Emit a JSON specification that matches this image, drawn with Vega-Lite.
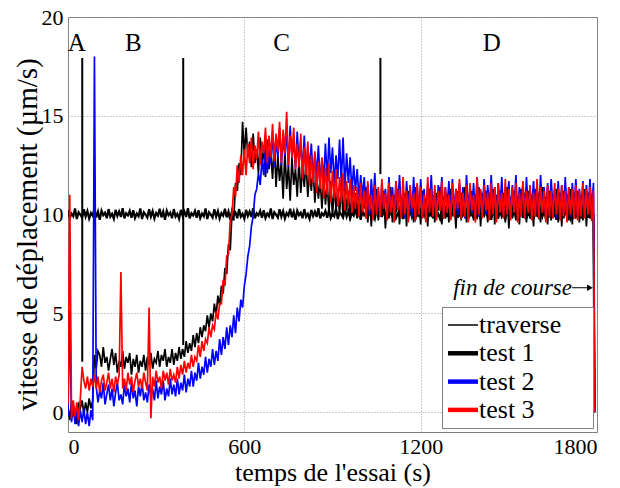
{
"$schema":"https://vega.github.io/schema/vega-lite/v6.json",
"width":529,"height":415,
"autosize":{"type":"none"},
"padding":{"left":68,"top":17,"right":23,"bottom":56},
"config":{
"font":"Liberation Serif",
"view":{"stroke":"#7a7a7a","strokeWidth":1},
"axis":{"labelFont":"Liberation Serif","labelFontSize":22,"labelColor":"#000","titleFont":"Liberation Serif","titleFontWeight":"normal","titleColor":"#000","domain":false,"ticks":false,"grid":true,"gridColor":"#9a9a9a","gridDash":[1,2],"gridWidth":1,"format":"d"},
"axisX":{"labelPadding":4,"titleFontSize":26,"titleY":40,"titleBaseline":"middle"},
"axisY":{"labelPadding":5,"titleFontSize":29,"titleX":-41,"titleY":217,"titleBaseline":"middle"}
},
"datasets":{
"series":[
{"t":0,"a":10.22,"k":0.3,"b":-0.2,"r":0.4},
{"t":6,"a":9.83,"k":-0.4,"b":5.2,"r":11.0},
{"t":12,"a":10.05,"k":0.5,"b":-0.5,"r":-0.3},
{"t":18,"a":9.92,"k":-0.2,"b":0.3,"r":0.6},
{"t":24,"a":10.31,"k":0.1,"b":-0.6,"r":-0.2},
{"t":30,"a":9.78,"k":-0.6,"b":0.2,"r":0.5},
{"t":36,"a":10.12,"k":0.4,"b":-0.7,"r":-0.4},
{"t":42,"a":10.0,"k":0.2,"b":0.1,"r":0.7},
{"t":48,"a":9.85,"k":0.6,"b":-0.5,"r":2.3},
{"t":54,"a":10.27,"k":-0.1,"b":0.2,"r":1.6},
{"t":60,"a":9.9,"k":0.5,"b":-0.6,"r":1.2},
{"t":66,"a":10.18,"k":0.0,"b":0.0,"r":1.8},
{"t":72,"a":9.8,"k":0.7,"b":-0.7,"r":1.1},
{"t":78,"a":10.08,"k":0.2,"b":0.1,"r":1.7},
{"t":84,"a":9.95,"k":0.6,"b":-0.4,"r":1.3},
{"t":90,"a":10.3,"k":2.9,"b":18.0,"r":1.9},
{"t":96,"a":9.86,"k":2.2,"b":1.3,"r":1.2},
{"t":102,"a":10.15,"k":3.1,"b":0.5,"r":1.8},
{"t":108,"a":9.74,"k":2.9,"b":1.1,"r":1.0},
{"t":114,"a":10.2,"k":2.3,"b":0.7,"r":1.6},
{"t":120,"a":9.97,"k":3.3,"b":1.5,"r":1.9},
{"t":126,"a":10.1,"k":2.5,"b":0.4,"r":1.1},
{"t":132,"a":9.82,"k":2.8,"b":0.9,"r":1.5},
{"t":138,"a":10.28,"k":2.1,"b":1.4,"r":2.0},
{"t":144,"a":9.9,"k":2.7,"b":0.6,"r":1.2},
{"t":150,"a":10.04,"k":3.2,"b":1.2,"r":1.7},
{"t":156,"a":9.79,"k":2.4,"b":0.3,"r":1.0},
{"t":162,"a":10.24,"k":3.0,"b":1.0,"r":1.8},
{"t":168,"a":9.93,"k":2.0,"b":1.5,"r":1.4},
{"t":174,"a":10.16,"k":2.6,"b":0.6,"r":1.9},
{"t":180,"a":9.88,"k":2.3,"b":0.9,"r":7.1},
{"t":186,"a":10.33,"k":3.1,"b":0.4,"r":1.2},
{"t":192,"a":9.81,"k":2.2,"b":1.4,"r":1.7},
{"t":198,"a":10.07,"k":2.8,"b":0.8,"r":1.1},
{"t":204,"a":9.96,"k":2.5,"b":1.2,"r":2.0},
{"t":210,"a":10.19,"k":3.0,"b":0.5,"r":1.4},
{"t":216,"a":9.84,"k":1.9,"b":1.5,"r":1.8},
{"t":222,"a":10.22,"k":2.7,"b":0.7,"r":1.0},
{"t":228,"a":9.83,"k":2.3,"b":1.1,"r":1.6},
{"t":234,"a":10.05,"k":2.9,"b":0.3,"r":2.0},
{"t":240,"a":9.92,"k":2.0,"b":1.3,"r":1.3},
{"t":246,"a":10.31,"k":2.6,"b":0.8,"r":1.7},
{"t":252,"a":9.78,"k":2.3,"b":1.5,"r":1.2},
{"t":258,"a":10.12,"k":2.9,"b":0.6,"r":2.0},
{"t":264,"a":10.0,"k":2.1,"b":1.0,"r":1.5},
{"t":270,"a":9.85,"k":2.8,"b":0.5,"r":1.1},
{"t":276,"a":10.27,"k":2.4,"b":1.4,"r":5.3},
{"t":282,"a":9.9,"k":3.0,"b":0.8,"r":-0.3},
{"t":288,"a":10.18,"k":2.2,"b":1.2,"r":1.8},
{"t":294,"a":9.8,"k":2.7,"b":0.6,"r":1.3},
{"t":300,"a":10.08,"k":2.5,"b":1.6,"r":2.1},
{"t":306,"a":9.95,"k":3.1,"b":0.7,"r":1.5},
{"t":312,"a":10.3,"k":2.3,"b":1.3,"r":1.8},
{"t":318,"a":9.86,"k":2.9,"b":0.9,"r":1.2},
{"t":324,"a":10.15,"k":2.6,"b":1.6,"r":2.1},
{"t":330,"a":9.74,"k":3.2,"b":0.6,"r":1.6},
{"t":336,"a":10.2,"k":2.3,"b":1.2,"r":2.0},
{"t":342,"a":9.97,"k":2.8,"b":0.8,"r":1.4},
{"t":348,"a":10.1,"k":2.5,"b":1.7,"r":2.2},
{"t":354,"a":9.82,"k":3.2,"b":0.9,"r":1.6},
{"t":360,"a":10.28,"k":2.4,"b":1.4,"r":1.9},
{"t":366,"a":9.9,"k":3.0,"b":0.8,"r":1.5},
{"t":372,"a":10.04,"k":2.6,"b":1.7,"r":2.3},
{"t":378,"a":9.79,"k":3.3,"b":0.9,"r":1.7},
{"t":384,"a":10.24,"k":2.7,"b":1.5,"r":2.4},
{"t":390,"a":9.93,"k":3.2,"b":1.1,"r":1.9},
{"t":396,"a":10.16,"k":2.8,"b":1.9,"r":2.6},
{"t":402,"a":9.88,"k":3.6,"b":1.0,"r":2.0},
{"t":408,"a":10.33,"k":3.0,"b":1.7,"r":2.5},
{"t":414,"a":9.81,"k":3.5,"b":1.3,"r":2.2},
{"t":420,"a":10.07,"k":3.1,"b":2.1,"r":2.9},
{"t":426,"a":9.96,"k":3.9,"b":1.3,"r":2.3},
{"t":432,"a":10.19,"k":3.3,"b":2.0,"r":2.8},
{"t":438,"a":9.84,"k":4.0,"b":1.6,"r":2.6},
{"t":444,"a":10.22,"k":3.5,"b":2.5,"r":3.4},
{"t":450,"a":9.83,"k":4.3,"b":1.7,"r":2.8},
{"t":456,"a":10.05,"k":3.8,"b":2.3,"r":3.6},
{"t":462,"a":9.92,"k":4.4,"b":1.9,"r":3.1},
{"t":468,"a":10.31,"k":4.1,"b":2.8,"r":3.7},
{"t":474,"a":9.78,"k":4.9,"b":2.0,"r":3.5},
{"t":480,"a":10.12,"k":4.3,"b":2.7,"r":4.3},
{"t":486,"a":10.0,"k":5.0,"b":2.3,"r":3.8},
{"t":492,"a":9.85,"k":4.6,"b":3.2,"r":4.4},
{"t":498,"a":10.27,"k":5.5,"b":2.4,"r":4.2},
{"t":504,"a":9.9,"k":4.9,"b":3.1,"r":5.1},
{"t":510,"a":10.18,"k":5.9,"b":2.6,"r":4.7},
{"t":516,"a":9.8,"k":5.4,"b":3.7,"r":5.5},
{"t":522,"a":10.08,"k":6.4,"b":2.9,"r":5.5},
{"t":528,"a":9.95,"k":6.0,"b":3.8,"r":6.7},
{"t":534,"a":10.3,"k":7.3,"b":3.2,"r":6.4},
{"t":540,"a":9.86,"k":7.0,"b":4.3,"r":7.9},
{"t":546,"a":10.15,"k":8.5,"b":3.4,"r":8.0},
{"t":552,"a":9.74,"k":8.2,"b":4.4,"r":9.7},
{"t":558,"a":10.2,"k":10.1,"b":3.8,"r":10.0},
{"t":564,"a":9.97,"k":9.7,"b":4.9,"r":11.4},
{"t":570,"a":10.1,"k":11.6,"b":4.0,"r":10.9},
{"t":576,"a":9.82,"k":11.2,"b":5.3,"r":12.5},
{"t":582,"a":10.28,"k":12.6,"b":4.6,"r":11.6},
{"t":588,"a":9.9,"k":12.0,"b":5.7,"r":13.0},
{"t":594,"a":10.04,"k":14.7,"b":5.3,"r":12.0},
{"t":600,"a":9.79,"k":13.0,"b":6.4,"r":13.3},
{"t":606,"a":10.24,"k":14.4,"b":7.0,"r":12.0},
{"t":612,"a":9.93,"k":12.9,"b":7.9,"r":13.6},
{"t":618,"a":10.16,"k":13.7,"b":8.4,"r":12.6},
{"t":624,"a":9.88,"k":12.4,"b":9.4,"r":13.9},
{"t":630,"a":10.33,"k":14.1,"b":9.9,"r":12.3},
{"t":636,"a":9.81,"k":12.6,"b":11.0,"r":13.5},
{"t":642,"a":10.07,"k":13.3,"b":11.3,"r":12.8},
{"t":648,"a":9.96,"k":12.1,"b":12.1,"r":14.2},
{"t":654,"a":10.19,"k":13.9,"b":11.5,"r":12.5},
{"t":660,"a":9.84,"k":12.5,"b":12.8,"r":13.7},
{"t":666,"a":10.22,"k":13.5,"b":12.0,"r":13.1},
{"t":672,"a":9.83,"k":11.9,"b":13.6,"r":14.4},
{"t":678,"a":10.05,"k":13.8,"b":12.1,"r":12.6},
{"t":684,"a":9.92,"k":12.3,"b":13.3,"r":14.0},
{"t":690,"a":10.31,"k":13.2,"b":12.6,"r":12.9},
{"t":696,"a":9.78,"k":11.8,"b":14.1,"r":14.6},
{"t":702,"a":10.12,"k":13.6,"b":12.4,"r":12.7},
{"t":708,"a":10.0,"k":11.4,"b":13.8,"r":14.1},
{"t":714,"a":9.85,"k":13.0,"b":12.9,"r":13.2},
{"t":720,"a":10.27,"k":11.7,"b":14.4,"r":14.7},
{"t":726,"a":9.9,"k":12.7,"b":12.5,"r":12.6},
{"t":732,"a":10.18,"k":10.8,"b":13.9,"r":14.3},
{"t":738,"a":9.8,"k":13.2,"b":13.0,"r":13.1},
{"t":744,"a":10.08,"k":11.3,"b":14.2,"r":15.2},
{"t":750,"a":9.95,"k":12.5,"b":12.4,"r":12.5},
{"t":756,"a":10.3,"k":10.7,"b":14.5,"r":14.0},
{"t":762,"a":9.86,"k":12.9,"b":12.9,"r":12.9},
{"t":768,"a":10.15,"k":11.5,"b":13.8,"r":14.4},
{"t":774,"a":9.74,"k":12.3,"b":12.3,"r":12.3},
{"t":780,"a":10.2,"k":10.9,"b":14.2,"r":13.6},
{"t":786,"a":9.97,"k":12.8,"b":12.6,"r":12.4},
{"t":792,"a":10.1,"k":11.1,"b":13.7,"r":14.1},
{"t":798,"a":9.82,"k":12.4,"b":12.2,"r":11.8},
{"t":804,"a":10.28,"k":11.4,"b":14.0,"r":13.4},
{"t":810,"a":9.9,"k":12.7,"b":12.0,"r":12.0},
{"t":816,"a":10.04,"k":10.9,"b":13.4,"r":13.7},
{"t":822,"a":9.79,"k":12.2,"b":12.3,"r":11.5},
{"t":828,"a":10.24,"k":11.2,"b":13.6,"r":13.0},
{"t":834,"a":9.93,"k":12.4,"b":11.7,"r":11.6},
{"t":840,"a":10.16,"k":10.6,"b":13.1,"r":13.2},
{"t":846,"a":9.88,"k":12.0,"b":12.0,"r":11.1},
{"t":852,"a":10.33,"k":10.8,"b":13.5,"r":12.7},
{"t":858,"a":9.81,"k":11.8,"b":11.6,"r":11.3},
{"t":864,"a":10.07,"k":10.3,"b":12.8,"r":12.9},
{"t":870,"a":9.96,"k":11.9,"b":11.8,"r":10.8},
{"t":876,"a":10.19,"k":10.5,"b":13.6,"r":12.4},
{"t":882,"a":9.84,"k":11.6,"b":11.7,"r":11.0},
{"t":888,"a":10.22,"k":10.1,"b":13.9,"r":12.6},
{"t":894,"a":9.83,"k":11.7,"b":12.1,"r":10.6},
{"t":900,"a":10.05,"k":9.9,"b":13.4,"r":12.2},
{"t":906,"a":9.92,"k":11.5,"b":11.5,"r":10.8},
{"t":912,"a":10.31,"k":10.3,"b":13.0,"r":12.3},
{"t":918,"a":9.78,"k":11.3,"b":11.8,"r":10.4},
{"t":924,"a":10.12,"k":10.0,"b":13.8,"r":11.9},
{"t":930,"a":10.0,"k":11.6,"b":11.6,"r":10.6},
{"t":936,"a":9.85,"k":9.8,"b":13.9,"r":12.1},
{"t":942,"a":10.27,"k":11.4,"b":11.3,"r":10.2},
{"t":948,"a":9.9,"k":10.2,"b":13.1,"r":11.7},
{"t":954,"a":10.18,"k":11.2,"b":11.6,"r":10.5},
{"t":960,"a":9.8,"k":9.7,"b":12.9,"r":11.8},
{"t":966,"a":10.08,"k":11.3,"b":11.1,"r":10.1},
{"t":972,"a":9.95,"k":10.0,"b":12.5,"r":11.5},
{"t":978,"a":10.3,"k":11.1,"b":11.2,"r":10.3},
{"t":984,"a":9.86,"k":9.8,"b":12.3,"r":11.4},
{"t":990,"a":10.15,"k":11.3,"b":10.8,"r":9.9},
{"t":996,"a":9.74,"k":9.9,"b":12.0,"r":11.6},
{"t":1002,"a":10.2,"k":11.0,"b":10.9,"r":10.1},
{"t":1008,"a":9.97,"k":10.3,"b":11.9,"r":11.2},
{"t":1014,"a":10.1,"k":11.4,"b":10.2,"r":9.8},
{"t":1020,"a":9.82,"k":9.6,"b":11.5,"r":11.7},
{"t":1026,"a":10.28,"k":10.9,"b":10.0,"r":10.2},
{"t":1032,"a":9.9,"k":9.4,"b":11.8,"r":11.0},
{"t":1038,"a":10.04,"k":11.1,"b":10.5,"r":9.7},
{"t":1044,"a":9.79,"k":10.0,"b":12.1,"r":11.5},
{"t":1050,"a":10.24,"k":11.3,"b":10.1,"r":10.0},
{"t":1056,"a":9.93,"k":9.7,"b":11.2,"r":11.4},
{"t":1062,"a":10.16,"k":10.8,"b":9.9,"r":9.9},
{"t":1068,"a":9.88,"k":9.9,"b":11.6,"r":11.8},
{"t":1074,"a":10.33,"k":11.2,"b":10.4,"r":10.3},
{"t":1080,"a":9.81,"k":9.3,"b":11.3,"r":11.1},
{"t":1086,"a":10.07,"k":10.7,"b":10.0,"r":9.7},
{"t":1092,"a":9.96,"k":9.8,"b":11.9,"r":11.6},
{"t":1098,"a":10.19,"k":11.4,"b":10.2,"r":10.1},
{"t":1104,"a":9.84,"k":9.6,"b":11.4,"r":11.0},
{"t":1110,"a":10.22,"k":11.0,"b":9.9,"r":9.6},
{"t":1116,"a":9.83,"k":10.1,"b":11.7,"r":11.7},
{"t":1122,"a":10.05,"k":11.3,"b":10.3,"r":10.2},
{"t":1128,"a":9.92,"k":9.5,"b":12.0,"r":11.3},
{"t":1134,"a":10.31,"k":10.9,"b":10.1,"r":9.8},
{"t":1140,"a":9.78,"k":9.8,"b":11.2,"r":11.9},
{"t":1146,"a":10.12,"k":11.1,"b":9.8,"r":10.0},
{"t":1152,"a":10.0,"k":9.4,"b":11.7,"r":11.2},
{"t":1158,"a":9.85,"k":11.2,"b":10.4,"r":9.6},
{"t":1164,"a":10.27,"k":10.0,"b":11.4,"r":11.5},
{"t":1170,"a":9.9,"k":10.8,"b":9.9,"r":10.3},
{"t":1176,"a":10.18,"k":9.6,"b":11.9,"r":11.1},
{"t":1182,"a":9.8,"k":11.4,"b":10.2,"r":9.7},
{"t":1188,"a":10.08,"k":9.9,"b":11.5,"r":11.6},
{"t":1194,"a":9.95,"k":10.9,"b":10.0,"r":10.0},
{"t":1200,"a":10.3,"k":9.5,"b":11.8,"r":11.4},
{"t":1206,"a":9.86,"k":11.2,"b":10.5,"r":9.8},
{"t":1212,"a":10.15,"k":10.1,"b":11.3,"r":11.0},
{"t":1218,"a":9.74,"k":10.8,"b":9.8,"r":9.6},
{"t":1224,"a":10.2,"k":9.4,"b":11.6,"r":11.9},
{"t":1230,"a":9.97,"k":11.3,"b":10.3,"r":10.1},
{"t":1236,"a":10.1,"k":9.9,"b":12.0,"r":11.3},
{"t":1242,"a":9.82,"k":11.0,"b":10.1,"r":9.9},
{"t":1248,"a":10.28,"k":9.6,"b":11.2,"r":11.5},
{"t":1254,"a":9.9,"k":11.1,"b":9.9,"r":9.7},
{"t":1260,"a":10.04,"k":10.2,"b":11.5,"r":11.2},
{"t":1266,"a":9.79,"k":11.4,"b":10.4,"r":10.2},
{"t":1272,"a":10.24,"k":9.5,"b":11.9,"r":11.7},
{"t":1278,"a":9.93,"k":10.9,"b":10.0,"r":9.8},
{"t":1284,"a":10.16,"k":9.8,"b":11.4,"r":11.4},
{"t":1290,"a":9.88,"k":11.0,"b":10.3,"r":10.1},
{"t":1296,"a":10.33,"k":9.6,"b":11.7,"r":11.0},
{"t":1302,"a":9.81,"k":11.3,"b":9.9,"r":9.7},
{"t":1308,"a":10.07,"k":10.0,"b":11.8,"r":11.6},
{"t":1314,"a":9.96,"k":10.8,"b":10.2,"r":9.9},
{"t":1320,"a":10.19,"k":9.3,"b":11.3,"r":11.3},
{"t":1326,"a":9.84,"k":11.2,"b":10.0,"r":10.3},
{"t":1332,"a":10.22,"k":9.9,"b":11.6,"r":11.8},
{"t":1338,"a":9.83,"k":11.1,"b":10.4,"r":9.8},
{"t":1344,"a":10.05,"k":10.1,"b":11.4,"r":11.1},
{"t":1350,"a":9.92,"k":11.4,"b":9.8,"r":9.9},
{"t":1356,"a":10.31,"k":9.6,"b":12.0,"r":11.5},
{"t":1362,"a":9.78,"k":10.8,"b":10.3,"r":9.6},
{"t":1368,"a":10.12,"k":9.9,"b":11.3,"r":11.6},
{"t":1374,"a":10.0,"k":11.2,"b":10.1,"r":10.2},
{"t":1380,"a":9.85,"k":9.7,"b":11.6,"r":11.0},
{"t":1386,"a":10.27,"k":11.0,"b":10.0,"r":9.6},
{"t":1392,"a":9.9,"k":9.8,"b":11.9,"r":11.9},
{"t":1398,"a":10.18,"k":11.4,"b":9.9,"r":10.0},
{"t":1404,"a":9.8,"k":9.4,"b":11.2,"r":11.3},
{"t":1410,"a":10.08,"k":11.1,"b":10.3,"r":9.8},
{"t":1416,"a":9.95,"k":10.0,"b":11.8,"r":11.5},
{"t":1422,"a":10.3,"k":11.2,"b":10.0,"r":10.2},
{"t":1428,"a":9.86,"k":9.6,"b":11.5,"r":11.1},
{"t":1434,"a":10.15,"k":10.7,"b":10.4,"r":9.7},
{"t":1440,"a":9.74,"k":9.9,"b":12.0,"r":11.6},
{"t":1446,"a":10.2,"k":11.3,"b":10.1,"r":10.0},
{"t":1452,"a":9.97,"k":9.5,"b":11.4,"r":11.4},
{"t":1458,"a":10.1,"k":11.0,"b":9.8,"r":9.6},
{"t":1464,"a":9.82,"k":9.8,"b":11.6,"r":11.6},
{"t":1470,"a":10.28,"k":11.2,"b":10.2,"r":10.1},
{"t":1476,"a":9.9,"k":10.0,"b":11.9,"r":11.1},
{"t":1482,"a":10.04,"k":11.1,"b":10.0,"r":9.8},
{"t":1488,"a":9.79,"k":9.6,"b":11.3,"r":11.8},
{"t":1494,"a":10.24,"k":11.4,"b":10.4,"r":10.0},
{"t":1500,"a":9.93,"k":9.3,"b":11.7,"r":11.3},
{"t":1506,"a":10.16,"k":10.9,"b":9.9,"r":9.7},
{"t":1512,"a":9.88,"k":9.8,"b":11.5,"r":11.4},
{"t":1518,"a":10.33,"k":11.2,"b":10.1,"r":10.1},
{"t":1524,"a":9.81,"k":9.7,"b":12.0,"r":11.6},
{"t":1530,"a":10.07,"k":10.9,"b":10.0,"r":9.6},
{"t":1536,"a":9.96,"k":9.5,"b":11.4,"r":11.1},
{"t":1542,"a":10.19,"k":11.3,"b":10.3,"r":9.9},
{"t":1548,"a":9.84,"k":10.0,"b":11.6,"r":11.7},
{"t":1554,"a":10.22,"k":11.1,"b":9.8,"r":9.8},
{"t":1560,"a":9.83,"k":9.6,"b":11.9,"r":11.2},
{"t":1566,"a":10.05,"k":11.2,"b":10.1,"r":10.1},
{"t":1572,"a":9.92,"k":9.8,"b":11.3,"r":11.5},
{"t":1578,"a":10.31,"k":11.0,"b":10.4,"r":9.7},
{"t":1584,"a":9.78,"k":9.4,"b":11.7,"r":11.1},
{"t":1590,"a":10.12,"k":11.3,"b":10.0,"r":9.9},
{"t":1596,"a":10.0,"k":9.9,"b":11.5,"r":11.8},
{"t":1602,"a":9.85,"k":11.1,"b":9.9,"r":9.8},
{"t":1608,"a":10.27,"k":9.6,"b":12.0,"r":11.4},
{"t":1614,"a":9.9,"k":11.4,"b":10.2,"r":10.1},
{"t":1620,"a":10.18,"k":10.0,"b":11.4,"r":11.2},
{"t":1626,"a":9.8,"k":10.9,"b":10.0,"r":9.6},
{"t":1632,"a":10.08,"k":9.5,"b":11.6,"r":11.5},
{"t":1638,"a":9.95,"k":11.2,"b":10.1,"r":9.9},
{"t":1644,"a":10.3,"k":9.7,"b":11.8,"r":11.2},
{"t":1650,"a":9.86,"k":11.0,"b":10.4,"r":9.8},
{"t":1656,"a":10.15,"k":9.9,"b":11.3,"r":11.6},
{"t":1662,"a":9.74,"k":11.3,"b":9.8,"r":10.0},
{"t":1668,"a":10.2,"k":9.6,"b":11.7,"r":11.3},
{"t":1674,"a":9.97,"k":11.1,"b":10.2,"r":9.7},
{"t":1680,"a":10.1,"k":9.4,"b":11.5,"r":11.5},
{"t":1686,"a":9.82,"k":11.2,"b":10.0,"r":9.9},
{"t":1692,"a":10.28,"k":10.0,"b":11.9,"r":11.2},
{"t":1698,"a":9.9,"k":11.0,"b":10.1,"r":9.6},
{"t":1704,"a":10.04,"k":9.7,"b":11.4,"r":11.4},
{"t":1710,"a":9.79,"k":11.3,"b":9.9,"r":10.0},
{"t":1716,"a":10.24,"k":9.5,"b":11.6,"r":11.3},
{"t":1722,"a":9.93,"k":11.1,"b":10.3,"r":9.8},
{"t":1728,"a":10.16,"k":9.8,"b":11.8,"r":11.5},
{"t":1734,"a":9.88,"k":11.2,"b":10.0,"r":9.7},
{"t":1740,"a":10.33,"k":9.6,"b":11.3,"r":11.2},
{"t":1746,"a":9.81,"k":11.0,"b":10.2,"r":9.9},
{"t":1752,"a":10.07,"k":9.7,"b":11.7,"r":11.6},
{"t":1758,"a":9.96,"k":11.3,"b":9.9,"r":9.8},
{"t":1764,"a":10.19,"k":9.4,"b":11.5,"r":11.3},
{"t":1770,"a":9.84,"k":11.1,"b":10.1,"r":10.0},
{"t":1776,"a":10.22,"k":9.8,"b":11.8,"r":11.4},
{"t":1782,"a":9.83,"k":11.0,"b":10.2,"r":9.7},
{"t":1788,"a":10.05,"k":9.6,"b":11.6,"r":11.2},
{"t":1792,"a":0,"k":0,"b":0,"r":0}
],
"phases":[
{"x":48.5,"y":2.55,"y2":17.93},
{"x":392,"y":3.4,"y2":17.93},
{"x":1063,"y":12.05,"y2":17.93}
],
"letters":[
{"x":30,"y":18.67,"l":"A"},
{"x":222,"y":18.67,"l":"B"},
{"x":727,"y":18.67,"l":"C"},
{"x":1442,"y":18.67,"l":"D"}
],
"note":[{"x":1715,"x2":1780,"y":6.3,"l":"fin de course"}],
"head":[{"x":1776,"y":6.3}]
},
"data":{"name":"series"},
"layer":[
{"mark":{"type":"line","strokeWidth":2.2,"clip":true},
 "encoding":{
  "x":{"field":"t","type":"quantitative","title":"temps de l'essai (s)","scale":{"domain":[0,1800],"nice":false,"zero":false},"axis":{"values":[0,600,1200,1800]}},
  "y":{"field":"a","type":"quantitative","title":"vitesse de déplacement (µm/s)","scale":{"domain":[-1,20],"nice":false,"zero":false},"axis":{"values":[0,5,10,15,20]}},
  "color":{"datum":"traverse","type":"nominal","scale":{"domain":["traverse","test 1","test 2","test 3"],"range":["#000000","#000000","#0000ff","#ff0000"]},
   "legend":{"orient":"none","legendX":374,"legendY":290,"title":null,"symbolType":"stroke","symbolSize":900,"symbolOffset":3,"symbolStrokeWidth":4.5,"labelFont":"Liberation Serif","labelFontSize":26,"labelColor":"#000","strokeColor":"#808080","fillColor":"#ffffff","padding":5,"rowPadding":2.3,"labelOffset":3,"labelLimit":300,
    "labelExpr":"datum.label + '\u00a0\u00a0\u00a0\u00a0\u200b'",
    "encode":{"symbols":{"update":{"size":{"value":900},"strokeWidth":{"signal":"datum.value === 'traverse' ? 1.5 : 4.5"}}}}}}
 }},
{"mark":{"type":"line","strokeWidth":1.7,"clip":true},
 "encoding":{
  "x":{"field":"t","type":"quantitative","title":"temps de l'essai (s)"},
  "y":{"field":"k","type":"quantitative","title":"vitesse de déplacement (µm/s)"},
  "color":{"datum":"test 1","type":"nominal"}
 }},
{"mark":{"type":"line","strokeWidth":1.7,"clip":true},
 "encoding":{
  "x":{"field":"t","type":"quantitative","title":"temps de l'essai (s)"},
  "y":{"field":"b","type":"quantitative","title":"vitesse de déplacement (µm/s)"},
  "color":{"datum":"test 2","type":"nominal"}
 }},
{"mark":{"type":"line","strokeWidth":1.7,"clip":true},
 "encoding":{
  "x":{"field":"t","type":"quantitative","title":"temps de l'essai (s)"},
  "y":{"field":"r","type":"quantitative","title":"vitesse de déplacement (µm/s)"},
  "color":{"datum":"test 3","type":"nominal"}
 }},
{"data":{"name":"phases"},
 "mark":{"type":"rule","color":"#000000","strokeWidth":2},
 "encoding":{
  "x":{"field":"x","type":"quantitative","title":"temps de l'essai (s)"},
  "y":{"field":"y","type":"quantitative","title":"vitesse de déplacement (µm/s)"},
  "y2":{"field":"y2"}
 }},
{"data":{"name":"letters"},
 "mark":{"type":"text","font":"Liberation Serif","fontSize":25,"color":"#000000","align":"center","baseline":"middle"},
 "encoding":{
  "x":{"field":"x","type":"quantitative","title":"temps de l'essai (s)"},
  "y":{"field":"y","type":"quantitative","title":"vitesse de déplacement (µm/s)"},
  "text":{"field":"l"}
 }},
{"data":{"name":"note"},
 "mark":{"type":"text","font":"Liberation Serif","fontSize":23,"fontStyle":"italic","color":"#000000","align":"right","baseline":"middle"},
 "encoding":{
  "x":{"field":"x","type":"quantitative","title":"temps de l'essai (s)"},
  "y":{"field":"y","type":"quantitative","title":"vitesse de déplacement (µm/s)"},
  "text":{"field":"l"}
 }},
{"data":{"name":"note"},
 "mark":{"type":"rule","color":"#000000","strokeWidth":1},
 "encoding":{
  "x":{"field":"x","type":"quantitative","title":"temps de l'essai (s)"},
  "x2":{"field":"x2"},
  "y":{"field":"y","type":"quantitative","title":"vitesse de déplacement (µm/s)"}
 }},
{"data":{"name":"head"},
 "mark":{"type":"point","shape":"triangle-right","filled":true,"color":"#000000","size":45,"opacity":1},
 "encoding":{
  "x":{"field":"x","type":"quantitative","title":"temps de l'essai (s)"},
  "y":{"field":"y","type":"quantitative","title":"vitesse de déplacement (µm/s)"}
 }}
]
}
